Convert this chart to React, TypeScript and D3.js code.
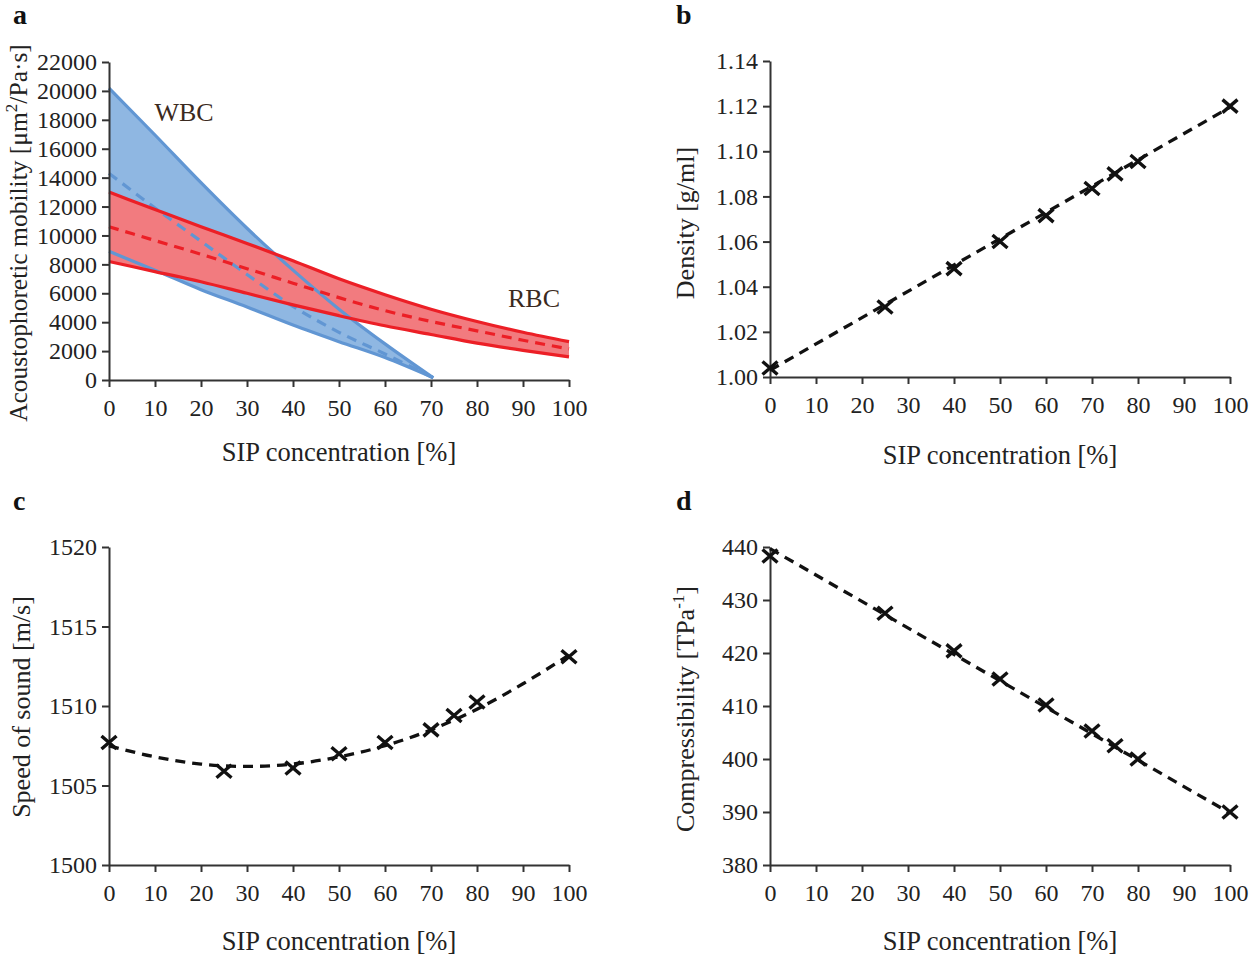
import * as d3 from 'd3';
import { useEffect, useRef } from 'react';

// SIP concentration of the measured samples [%]
const sip = [0, 25, 40, 50, 60, 70, 75, 80, 100];
const density = [1.004, 1.031, 1.048, 1.06, 1.0715, 1.0835, 1.09, 1.0955, 1.12];
const soundSpeed = [1507.7, 1505.9, 1506.1, 1507.0, 1507.7, 1508.5, 1509.4, 1510.25, 1513.1];
const compressibility = [438.3, 427.5, 420.4, 415.1, 410.2, 405.3, 402.5, 400.0, 390.0];

// fitted (dashed) curves
const densityFitX = [0, 100];
const densityFit = [1.003, 1.1195];
const compFitX = [0, 100];
const compFit = [439.7, 389.8];
const speedFitX = [0, 10, 20, 30, 40, 50, 60, 70, 80, 90, 100];
const speedFit = [1507.5, 1506.8, 1506.35, 1506.2, 1506.35, 1506.8, 1507.5, 1508.5, 1509.8, 1511.4, 1513.2];

// acoustophoretic mobility bands
const wbcX = [0, 10, 20, 30, 40, 50, 60, 70.5];
const wbcUpper = [20200, 16950, 13650, 10500, 7600, 4900, 2500, 150];
const wbcMid = [14300, 11900, 9600, 7300, 5100, 3300, 1800, 150];
const wbcLower = [8900, 7600, 6250, 5050, 3800, 2650, 1550, 150];

const rbcX = [0, 10, 20, 30, 40, 50, 60, 70, 80, 90, 100];
const rbcUpper = [13000, 11800, 10600, 9450, 8250, 7000, 5900, 4900, 4050, 3300, 2650];
const rbcMid = [10600, 9650, 8700, 7700, 6700, 5700, 4800, 4050, 3400, 2750, 2150];
const rbcLower = [8200, 7500, 6800, 6000, 5200, 4450, 3750, 3150, 2550, 2050, 1600];

const xTicks = [0, 10, 20, 30, 40, 50, 60, 70, 80, 90, 100];
const mobilityTicks = [0, 2000, 4000, 6000, 8000, 10000, 12000, 14000, 16000, 18000, 20000, 22000];
const densityTicks = [1.0, 1.02, 1.04, 1.06, 1.08, 1.1, 1.12, 1.14];
const speedTicks = [1500, 1505, 1510, 1515, 1520];
const compTicks = [380, 390, 400, 410, 420, 430, 440];

const FONT = '"Liberation Serif", "Times New Roman", serif';
const AXIS = '#333';
const BLUE_FILL = '#8fb7e2';
const BLUE_LINE = '#6196d3';
const RED_FILL = '#f27b7f';
const RED_LINE = '#ec1f26';

function drawAxes(g, x, y, yTicks, yFmt) {
  const xa = g.append('g')
      .attr('transform', `translate(0,${y.range()[0]})`)
      .call(d3.axisBottom(x).tickValues(xTicks).tickSize(7).tickPadding(12).tickSizeOuter(0));
  const ya = g.append('g')
      .attr('transform', `translate(${x.range()[0]},0)`)
      .call(d3.axisLeft(y).tickValues(yTicks).tickFormat(yFmt).tickSize(7).tickPadding(5).tickSizeOuter(0));
  [xa, ya].forEach(a => {
    a.selectAll('path, line').attr('stroke', AXIS).attr('stroke-width', 2);
    a.selectAll('text').attr('fill', '#222').style('font-family', FONT).style('font-size', '24px');
  });
}

function xTitle(g, x, yPos) {
  g.append('text')
      .attr('x', (x.range()[0] + x.range()[1]) / 2)
      .attr('y', yPos)
      .attr('text-anchor', 'middle')
      .style('font-family', FONT).style('font-size', '26.5px').attr('fill', '#222')
      .text('SIP concentration [%]');
}

function yTitle(g, xPos, yCenter, size, parts) {
  const t = g.append('text')
      .attr('transform', `translate(${xPos},${yCenter}) rotate(-90)`)
      .attr('text-anchor', 'middle')
      .style('font-family', FONT).style('font-size', size + 'px').attr('fill', '#222');
  parts.forEach(p => {
    const s = t.append('tspan').text(p.text);
    if (p.sup) s.attr('dy', -10).style('font-size', '17px');
    if (p.after) s.attr('dy', 10);
  });
}

function panelLetter(svg, x, y, letter) {
  svg.append('text').attr('x', x).attr('y', y)
      .style('font-family', FONT).style('font-size', '28px').style('font-weight', 'bold')
      .attr('fill', '#111').text(letter);
}

function scatterPanel(svg, cfg) {
  const g = svg.append('g');
  const x = d3.scaleLinear().domain([0, 100]).range(cfg.xr);
  const y = d3.scaleLinear().domain(cfg.yd).range(cfg.yr);
  drawAxes(g, x, y, cfg.yTicks, cfg.yFmt);

  const line = d3.line().x(d => x(d[0])).y(d => y(d[1])).curve(d3.curveMonotoneX);
  g.append('path')
      .attr('d', line(d3.zip(cfg.fitX, cfg.fit)))
      .attr('fill', 'none').attr('stroke', '#111').attr('stroke-width', 3.3)
      .attr('stroke-dasharray', '10,7');

  g.selectAll('path.mark')
      .data(d3.zip(sip, cfg.vals))
      .join('path')
      .attr('class', 'mark')
      .attr('transform', d => `translate(${x(d[0])},${y(d[1])})`)
      .attr('d', 'M-7.5,-6.5L7.5,6.5M-7.5,6.5L7.5,-6.5')
      .attr('stroke', '#111').attr('stroke-width', 3.4).attr('fill', 'none');

  xTitle(g, x, cfg.xTitleY);
  yTitle(g, cfg.yTitleX, cfg.yTitleY, 26, cfg.yTitle);
}

function App() {
  const ref = useRef(null);

  useEffect(() => {
    const svg = d3.select(ref.current);
    svg.selectAll('*').remove();

    // ---- panel a ----
    const ga = svg.append('g');
    const xa = d3.scaleLinear().domain([0, 100]).range([109, 569]);
    const ya = d3.scaleLinear().domain([0, 22000]).range([380, 62]);

    const area = d3.area().x(d => xa(d[0])).y0(d => ya(d[1])).y1(d => ya(d[2])).curve(d3.curveMonotoneX);
    const ln = d3.line().x(d => xa(d[0])).y(d => ya(d[1])).curve(d3.curveMonotoneX);

    ga.append('path').attr('d', area(d3.zip(wbcX, wbcLower, wbcUpper))).attr('fill', BLUE_FILL);
    ga.append('path').attr('d', area(d3.zip(rbcX, rbcLower, rbcUpper))).attr('fill', RED_FILL);

    [wbcUpper, wbcLower].forEach(s => {
      ga.append('path').attr('d', ln(d3.zip(wbcX, s)))
          .attr('fill', 'none').attr('stroke', BLUE_LINE).attr('stroke-width', 3.2);
    });
    ga.append('path').attr('d', ln(d3.zip(wbcX, wbcMid)))
        .attr('fill', 'none').attr('stroke', BLUE_LINE).attr('stroke-width', 3.2)
        .attr('stroke-dasharray', '10,7');

    [rbcUpper, rbcLower].forEach(s => {
      ga.append('path').attr('d', ln(d3.zip(rbcX, s)))
          .attr('fill', 'none').attr('stroke', RED_LINE).attr('stroke-width', 3.2);
    });
    ga.append('path').attr('d', ln(d3.zip(rbcX, rbcMid)))
        .attr('fill', 'none').attr('stroke', RED_LINE).attr('stroke-width', 3.2)
        .attr('stroke-dasharray', '10,7');

    drawAxes(ga, xa, ya, mobilityTicks, d3.format('d'));
    xTitle(ga, xa, 461);
    yTitle(ga, 27, 233, 25.5, [
      { text: 'Acoustophoretic mobility  [μm' },
      { text: '2', sup: true },
      { text: '/Pa·s]', after: true },
    ]);
    ga.append('text').attr('x', 184).attr('y', 121).attr('text-anchor', 'middle')
        .style('font-family', FONT).style('font-size', '26px').attr('fill', '#3b2a20').text('WBC');
    ga.append('text').attr('x', 534).attr('y', 307).attr('text-anchor', 'middle')
        .style('font-family', FONT).style('font-size', '26px').attr('fill', '#3b2a20').text('RBC');

    // ---- panels b, c, d ----
    scatterPanel(svg, {
      xr: [770, 1230], yd: [1.0, 1.14], yr: [377, 61],
      yTicks: densityTicks, yFmt: d3.format('.2f'),
      vals: density, fitX: densityFitX, fit: densityFit,
      xTitleY: 464, yTitleX: 694, yTitleY: 223,
      yTitle: [{ text: 'Density [g/ml]' }],
    });
    scatterPanel(svg, {
      xr: [109, 569], yd: [1500, 1520], yr: [865, 547],
      yTicks: speedTicks, yFmt: d3.format('d'),
      vals: soundSpeed, fitX: speedFitX, fit: speedFit,
      xTitleY: 950, yTitleX: 30, yTitleY: 707,
      yTitle: [{ text: 'Speed of sound [m/s]' }],
    });
    scatterPanel(svg, {
      xr: [770, 1230], yd: [380, 440], yr: [865, 547],
      yTicks: compTicks, yFmt: d3.format('d'),
      vals: compressibility, fitX: compFitX, fit: compFit,
      xTitleY: 950, yTitleX: 694, yTitleY: 709,
      yTitle: [
        { text: 'Compressibility [TPa' },
        { text: '-1', sup: true },
        { text: ']', after: true },
      ],
    });

    panelLetter(svg, 13, 24, 'a');
    panelLetter(svg, 676, 24, 'b');
    panelLetter(svg, 13, 510, 'c');
    panelLetter(svg, 676, 510, 'd');
  }, []);

  return (
    <div style={{ position: 'absolute', left: 0, top: 0 }}>
      <svg ref={ref} width={1260} height={959} style={{ display: 'block', background: '#fff' }} />
    </div>
  );
}

export default App;
